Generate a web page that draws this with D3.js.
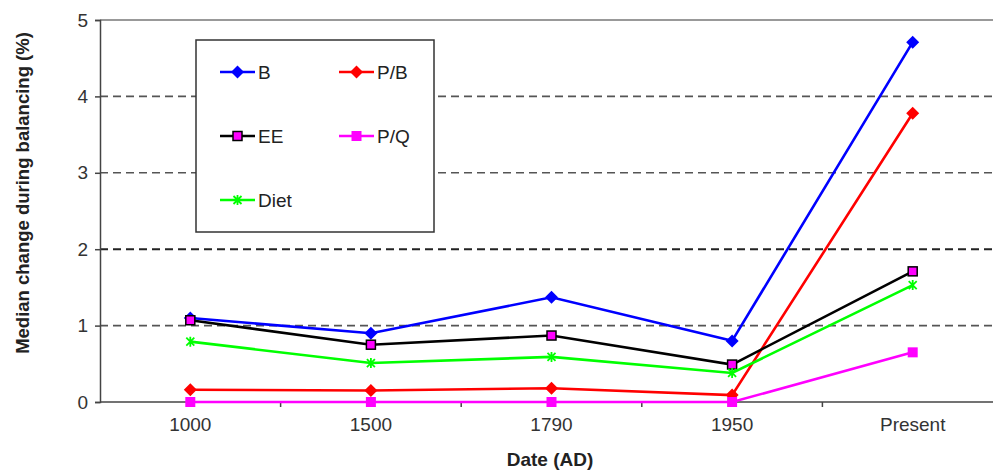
<!DOCTYPE html>
<html>
<head>
<meta charset="utf-8">
<script src="https://cdn.jsdelivr.net/npm/d3@7"></script>
<style>
  html, body { margin: 0; padding: 0; background: #fff; }
  svg { display: block; font-family: "Liberation Sans", Arial, sans-serif; }
</style>
</head>
<body>
<svg id="chart" width="993" height="472"></svg>
<script>
// Categories along the x axis
const dates = ["1000", "1500", "1790", "1950", "Present"];

// Median change during balancing (%) per series
const seriesB    = [1.10, 0.90, 1.37, 0.80, 4.71];
const seriesPB   = [0.16, 0.15, 0.18, 0.09, 3.78];
const seriesEE   = [1.07, 0.75, 0.87, 0.49, 1.71];
const seriesPQ   = [0.00, 0.00, 0.00, 0.00, 0.65];
const seriesDiet = [0.79, 0.51, 0.59, 0.38, 1.53];

const yTicks = [0, 1, 2, 3, 4, 5];

const seriesList = [
  { name: "B",    values: seriesB,    color: "#0000ff", marker: "diamond" },
  { name: "P/B",  values: seriesPB,   color: "#ff0000", marker: "diamond" },
  { name: "EE",   values: seriesEE,   color: "#000000", marker: "squareOutlined" },
  { name: "P/Q",  values: seriesPQ,   color: "#ff00ff", marker: "square" },
  { name: "Diet", values: seriesDiet, color: "#00ff00", marker: "star" }
];

const svg = d3.select("#chart");
const plot = { left: 100, right: 1003, top: 20, bottom: 402 };

const x = d3.scaleBand().domain(dates).range([plot.left, plot.right]).padding(0);
const y = d3.scaleLinear().domain([0, 5]).range([plot.bottom, plot.top]);
const cx = d => x(d) + x.bandwidth() / 2;

// Dashed horizontal gridlines
svg.append("g").selectAll("line")
  .data(yTicks.filter(t => t > 0 && t < 5))
  .join("line")
  .attr("x1", plot.left).attr("x2", plot.right)
  .attr("y1", d => y(d)).attr("y2", d => y(d))
  .attr("stroke", d => d === 2 ? "#222" : "#555")
  .attr("stroke-width", d => d === 2 ? 2 : 1.6)
  .attr("stroke-dasharray", "8,5");

// Top border of the plot
svg.append("line")
  .attr("x1", plot.left).attr("x2", plot.right)
  .attr("y1", y(5)).attr("y2", y(5))
  .attr("stroke", "#999").attr("stroke-width", 2);

// Y axis
const yAxis = svg.append("g")
  .attr("transform", `translate(${plot.left},0)`)
  .call(d3.axisLeft(y).tickValues(yTicks).tickSize(5).tickPadding(7).tickFormat(d3.format("d")));
yAxis.select(".domain").attr("stroke", "#444").attr("stroke-width", 1.5);
yAxis.selectAll(".tick line").attr("stroke", "#444").attr("stroke-width", 1.5);
yAxis.selectAll("text").attr("font-size", 19).attr("fill", "#333");

// X axis: ticks sit on the category boundaries
const xAxis = svg.append("g")
  .attr("transform", `translate(0,${plot.bottom})`);
xAxis.append("line")
  .attr("x1", plot.left).attr("x2", plot.right)
  .attr("y1", 0).attr("y2", 0)
  .attr("stroke", "#444").attr("stroke-width", 1.5);
xAxis.selectAll("line.tick")
  .data(dates.slice(1))
  .join("line")
  .attr("class", "tick")
  .attr("x1", d => x(d)).attr("x2", d => x(d))
  .attr("y1", 0).attr("y2", 5)
  .attr("stroke", "#444").attr("stroke-width", 1.5);
xAxis.selectAll("text")
  .data(dates)
  .join("text")
  .attr("x", d => cx(d))
  .attr("y", 29)
  .attr("text-anchor", "middle")
  .attr("font-size", 19)
  .attr("fill", "#333")
  .text(d => d);

// Axis titles
svg.append("text")
  .attr("transform", `translate(29,${(plot.top + plot.bottom) / 2 - 18}) rotate(-90)`)
  .attr("text-anchor", "middle")
  .attr("font-size", 18.5)
  .attr("font-weight", "bold")
  .attr("fill", "#222")
  .text("Median change during balancing (%)");

svg.append("text")
  .attr("x", 550).attr("y", 466)
  .attr("text-anchor", "middle")
  .attr("font-size", 19)
  .attr("font-weight", "bold")
  .attr("fill", "#222")
  .text("Date (AD)");

// Marker drawing
function drawMarker(g, type, color) {
  if (type === "diamond") {
    g.append("path").attr("d", "M0,-6.5L6.5,0L0,6.5L-6.5,0Z").attr("fill", color);
  } else if (type === "square") {
    g.append("rect").attr("x", -5).attr("y", -5).attr("width", 10).attr("height", 10).attr("fill", color);
  } else if (type === "squareOutlined") {
    g.append("rect").attr("x", -4.5).attr("y", -4.5).attr("width", 9).attr("height", 9)
      .attr("fill", "#ff00ff").attr("stroke", "#000").attr("stroke-width", 1.5);
  } else if (type === "star") {
    g.append("path").attr("d", "M-4,-4L4,4M-4,4L4,-4M0,-5L0,5")
      .attr("stroke", color).attr("stroke-width", 1.8).attr("fill", "none");
  }
}

const line = d3.line().x((v, i) => cx(dates[i])).y(v => y(v));

seriesList.forEach(s => {
  const g = svg.append("g");
  g.append("path")
    .attr("d", line(s.values))
    .attr("fill", "none")
    .attr("stroke", s.color)
    .attr("stroke-width", 2.6);
  s.values.forEach((v, i) => {
    drawMarker(g.append("g").attr("transform", `translate(${cx(dates[i])},${y(v)})`), s.marker, s.color);
  });
});

// Legend
const legend = svg.append("g");
legend.append("rect")
  .attr("x", 196).attr("y", 40).attr("width", 238).attr("height", 192)
  .attr("fill", "#fff").attr("stroke", "#333").attr("stroke-width", 1.5);

const legendPos = [
  { col: 0, row: 0 }, { col: 1, row: 0 },
  { col: 0, row: 1 }, { col: 1, row: 1 },
  { col: 0, row: 2 }
];
seriesList.forEach((s, i) => {
  const lx = 220 + legendPos[i].col * 119;
  const ly = 72 + legendPos[i].row * 64;
  const item = legend.append("g");
  item.append("line")
    .attr("x1", lx).attr("x2", lx + 35)
    .attr("y1", ly).attr("y2", ly)
    .attr("stroke", s.color).attr("stroke-width", 2.6);
  drawMarker(item.append("g").attr("transform", `translate(${lx + 17.5},${ly})`), s.marker, s.color);
  item.append("text")
    .attr("x", lx + 38).attr("y", ly + 7)
    .attr("font-size", 19)
    .attr("fill", "#222")
    .text(s.name);
});
</script>
</body>
</html>
